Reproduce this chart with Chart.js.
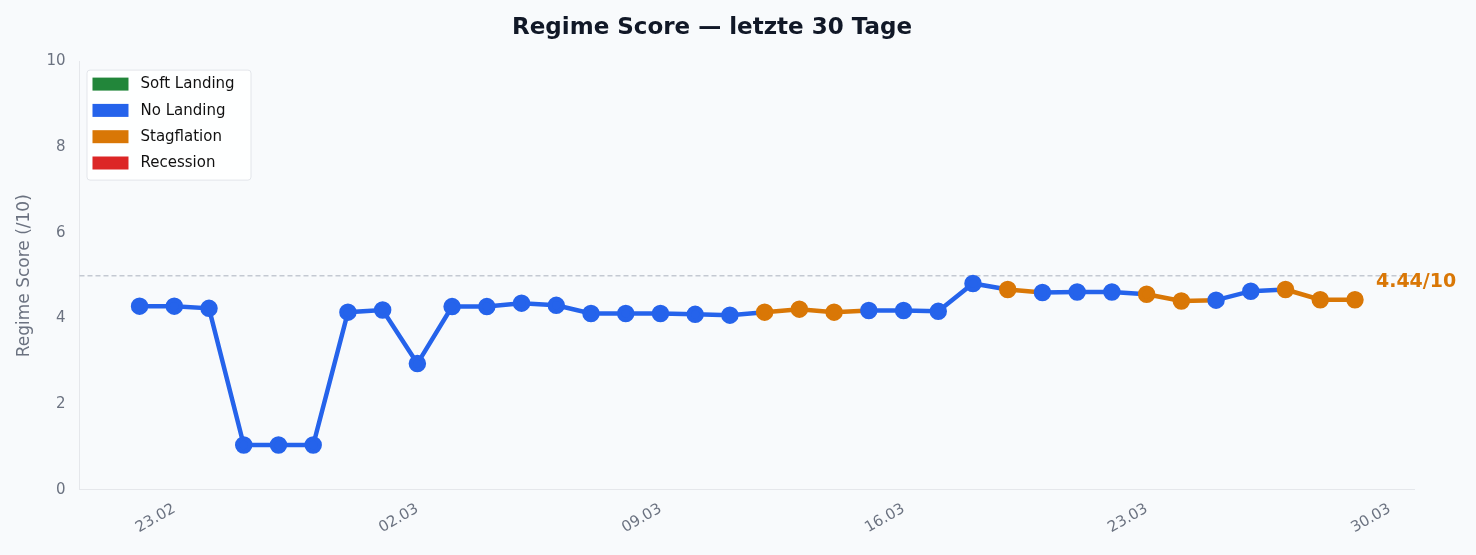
<!DOCTYPE html>
<html><head><meta charset="utf-8">
<script src="https://cdn.jsdelivr.net/npm/chart.js@4"></script>
<style>html,body{margin:0;background:#f8fafc;}#w{width:1476px;height:555px;}</style>
</head><body><div id="w"><canvas id="c"></canvas></div>
<script>
const dates = ["22.02","23.02","24.02","25.02","26.02","27.02","28.02","01.03","02.03","03.03","04.03","05.03","06.03","07.03","08.03","09.03","10.03","11.03","12.03","13.03","14.03","15.03","16.03","17.03","18.03","19.03","20.03","21.03","22.03","23.03","24.03","25.03","26.03","27.03","28.03","29.03","30.03"];
const scores = [4.29,4.29,4.24,1.05,1.05,1.05,4.15,4.20,2.95,4.28,4.28,4.36,4.31,4.12,4.12,4.12,4.10,4.08,4.15,4.22,4.15,4.19,4.19,4.17,4.82,4.68,4.61,4.62,4.62,4.57,4.41,4.43,4.64,4.68,4.44,4.44];
const regimes = ["N","N","N","N","N","N","N","N","N","N","N","N","N","N","N","N","N","N","S","S","S","N","N","N","N","S","N","N","N","S","S","N","N","S","S","S"];
const tickDays = [1,8,15,22,29,36];
const regimeNames = ["Soft Landing","No Landing","Stagflation","Recession"];
const regimeKeys = ["L","N","S","R"];
const regimeColors = {L:"#22863a",N:"#2563eb",S:"#d97706",R:"#dc2626"};

const pts = scores.map((v,i)=>({x:i,y:v}));
const col = regimes.map(r=>regimeColors[r]);

const overlay = {
  id:'overlay',
  afterDatasetsDraw(ch){
    const {ctx,chartArea:a,scales:{x,y}} = ch;
    ctx.save();
    const lx=a.left+7, ly=a.top+8, lw=164, lh=110;
    ctx.fillStyle='rgba(255,255,255,0.85)'; ctx.strokeStyle='#e2e5ea'; ctx.lineWidth=1;
    ctx.beginPath(); ctx.roundRect(lx+0.5,ly+0.5,lw,lh,3); ctx.fill(); ctx.stroke();
    ctx.font='15px "DejaVu Sans"'; ctx.textBaseline='middle';
    regimeKeys.forEach((k,i)=>{
      const yy = ly+14+i*26.3;
      ctx.fillStyle=regimeColors[k]; ctx.fillRect(lx+6,yy-6,36,13);
      ctx.fillStyle='#111'; ctx.fillText(regimeNames[i], lx+54, yy+1);
    });
    const last = scores.length-1;
    ctx.fillStyle=col[last]; ctx.font='bold 19px "DejaVu Sans"';
    ctx.textBaseline='middle'; ctx.textAlign='left';
    ctx.fillText(scores[last].toFixed(2)+'/10', x.getPixelForValue(last)+21, y.getPixelForValue(scores[last])-18);
    ctx.restore();
  },
  beforeDatasetsDraw(ch){
    const {ctx,chartArea:a,scales:{y}} = ch;
    ctx.save(); ctx.strokeStyle='#c4c9d2'; ctx.setLineDash([5,3]); ctx.lineWidth=1.3;
    const yy=y.getPixelForValue(5);
    ctx.beginPath(); ctx.moveTo(a.left,yy); ctx.lineTo(a.right,yy); ctx.stroke(); ctx.restore();
  }
};

new Chart(document.getElementById('c'),{
  type:'line',
  data:{datasets:[{data:pts,borderWidth:4.5,borderColor:'#2563eb',
    segment:{borderColor:c=>col[c.p0DataIndex]},
    pointBackgroundColor:col,pointBorderColor:col,pointRadius:6.5,pointHoverRadius:6.5,tension:0}]},
  options:{
    responsive:true,maintainAspectRatio:false,animation:false,
    layout:{padding:{left:10,right:62,top:2,bottom:14}},
    plugins:{legend:{display:false},tooltip:{enabled:false},
      title:{display:true,text:'Regime Score — letzte 30 Tage',color:'#111827',
        font:{family:'DejaVu Sans',size:23,weight:'bold'},padding:{top:12,bottom:20}}},
    scales:{
      x:{type:'linear',min:-1.73,max:36.7,
        afterBuildTicks:s=>{s.ticks=tickDays.map(v=>({value:v}));},
        ticks:{callback:v=>dates[v],maxRotation:30,minRotation:30,color:'#6b7280',font:{family:'DejaVu Sans',size:15},padding:4},
        grid:{display:false,drawTicks:true,tickLength:6,color:'#e5e7eb'},border:{color:'#e5e7eb'}},
      y:{min:0,max:10,
        ticks:{stepSize:2,color:'#6b7280',font:{family:'DejaVu Sans',size:15},padding:8},
        grid:{display:false,tickLength:6,color:'#e5e7eb'},border:{color:'#e5e7eb'},
        title:{display:true,text:'Regime Score (/10)',color:'#6b7280',font:{family:'DejaVu Sans',size:17},padding:4}}
    }
  },
  plugins:[overlay]
});
</script></body></html>
